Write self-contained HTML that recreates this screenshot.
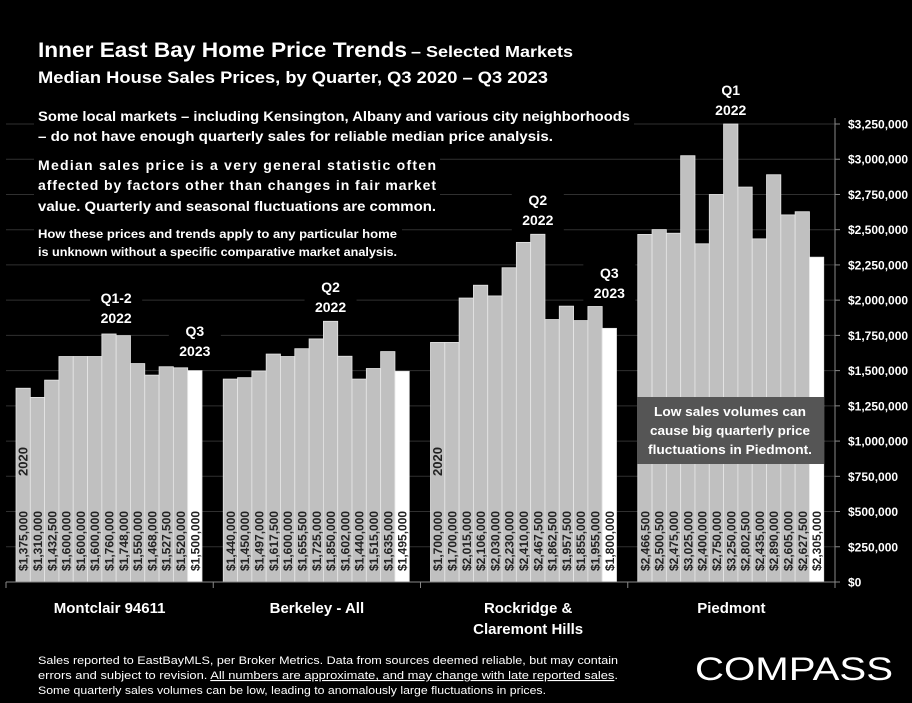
<!DOCTYPE html>
<html><head><meta charset="utf-8"><style>
html,body{margin:0;padding:0;background:#000;}
svg{display:block;font-family:"Liberation Sans",sans-serif;}
</style></head><body>
<svg id="chart" width="912" height="703" viewBox="0 0 912 703" xmlns="http://www.w3.org/2000/svg">
<rect x="0" y="0" width="912" height="703" fill="#000"/>
<g id="grid"></g>
<g id="bars"></g>
<g id="labels"></g>
<g id="axis"></g>
<g id="notes"></g>
<g fill="#fff" font-weight="bold">
<rect x="30" y="28" width="560" height="58" fill="#000"/>
<text x="38" y="57" font-size="21" textLength="369" lengthAdjust="spacingAndGlyphs">Inner East Bay Home Price Trends</text>
<text x="411" y="57" font-size="16" textLength="162" lengthAdjust="spacingAndGlyphs">– Selected Markets</text>
<text x="38" y="83" font-size="17" textLength="510" lengthAdjust="spacingAndGlyphs">Median House Sales Prices, by Quarter, Q3 2020 – Q3 2023</text>
<rect x="34" y="103" width="600" height="44" fill="#000"/>
<text x="38" y="121" font-size="14" textLength="592" lengthAdjust="spacingAndGlyphs">Some local markets – including Kensington, Albany and various city neighborhoods</text>
<text x="38" y="141" font-size="14" textLength="515" lengthAdjust="spacingAndGlyphs">– do not have enough quarterly sales for reliable median price analysis.</text>
<rect x="34" y="153" width="406" height="62" fill="#000"/>
<text x="38" y="170" font-size="14" textLength="398" lengthAdjust="spacing">Median sales price is a very general statistic often</text>
<text x="38" y="190" font-size="14" textLength="398" lengthAdjust="spacing">affected by factors other than changes in fair market</text>
<text x="38" y="211" font-size="14" textLength="398" lengthAdjust="spacingAndGlyphs">value. Quarterly and seasonal fluctuations are common.</text>
<rect x="34" y="225" width="368" height="34" fill="#000"/>
<text x="38" y="238" font-size="11.5" textLength="359" lengthAdjust="spacingAndGlyphs">How these prices and trends apply to any particular home</text>
<text x="38" y="256" font-size="11.5" textLength="359" lengthAdjust="spacingAndGlyphs">is unknown without a specific comparative market analysis.</text>
</g>
<g>
<rect x="637" y="397" width="187" height="67" fill="#555"/>
<g fill="#fff" font-weight="bold" font-size="13" text-anchor="middle">
<text x="730" y="416" textLength="152" lengthAdjust="spacingAndGlyphs">Low sales volumes can</text>
<text x="730" y="435" textLength="160" lengthAdjust="spacingAndGlyphs">cause big quarterly price</text>
<text x="730" y="454" textLength="164" lengthAdjust="spacingAndGlyphs">fluctuations in Piedmont.</text>
</g></g>
<g fill="#fff" font-size="11">
<text x="38" y="664" textLength="580" lengthAdjust="spacingAndGlyphs">Sales reported to EastBayMLS, per Broker Metrics. Data from sources deemed reliable, but may contain</text>
<text x="38" y="679" textLength="580" lengthAdjust="spacingAndGlyphs">errors and subject to revision. <tspan text-decoration="underline">All numbers are approximate, and may change with late reported sales</tspan>.</text>
<text x="38" y="694" textLength="508" lengthAdjust="spacingAndGlyphs">Some quarterly sales volumes can be low, leading to anomalously large fluctuations in prices.</text>
</g>
<text x="695" y="680" fill="#fff" font-size="32" textLength="198" lengthAdjust="spacingAndGlyphs">COMPASS</text>
</svg>
<script>
const categories = ["Montclair  94611", "Berkeley - All", "Rockridge &|Claremont Hills", "Piedmont"];
const montclair = [1375000,1310000,1432500,1600000,1600000,1600000,1760000,1748000,1550000,1468000,1527500,1520000,1500000];
const berkeley = [1440000,1450000,1497000,1617500,1600000,1655500,1725000,1850000,1602000,1440000,1515000,1635000,1495000];
const rockridge = [1700000,1700000,2015000,2106000,2030000,2230000,2410000,2467500,1862500,1957500,1855000,1955000,1800000];
const piedmont = [2466500,2500500,2475000,3025000,2400000,2750000,3250000,2802500,2435000,2890000,2605000,2627500,2305000];
const series = [montclair, berkeley, rockridge, piedmont];
const yTicks = [0,250000,500000,750000,1000000,1250000,1500000,1750000,2000000,2250000,2500000,2750000,3000000,3250000];
const notes = [
 {g:0, i:6.5, lines:["Q1-2","2022"], top:303},
 {g:0, i:12, lines:["Q3","2023"], top:336},
 {g:1, i:7, lines:["Q2","2022"], top:292},
 {g:2, i:7, lines:["Q2","2022"], top:205},
 {g:2, i:12, lines:["Q3","2023"], top:278},
 {g:3, i:6, lines:["Q1","2022"], top:95}
];
const NS="http://www.w3.org/2000/svg";
const X0=6, GW=207.25, BOFF=10, BW=186/13, Y0=582, YTOP=124, YMAX=3250000;
function y(v){return Y0-(v/YMAX)*(Y0-YTOP);}
function bx(g,i){return X0+g*GW+BOFF+i*BW;}
function mk(tag,attrs,parent){const e=document.createElementNS(NS,tag);for(const k in attrs)e.setAttribute(k,attrs[k]);parent.appendChild(e);return e;}
const grid=document.getElementById('grid'),bars=document.getElementById('bars'),labels=document.getElementById('labels'),axis=document.getElementById('axis'),notesG=document.getElementById('notes');
yTicks.forEach(t=>{
 if(t>0){const l=mk('line',{x1:6,x2:835,y1:y(t),y2:y(t),stroke:'#303030','stroke-width':1},grid);
 
 }
 const tl=mk('text',{x:848,y:y(t)+4.5,fill:'#fff','font-size':12,'font-weight':'bold'},axis);
 
 
 tl.textContent='$'+t.toLocaleString('en-US');
 mk('line',{x1:835,x2:840,y1:y(t),y2:y(t),stroke:'#888'},axis);
});
mk('line',{x1:835,x2:835,y1:118,y2:588,stroke:'#888'},axis);
mk('line',{x1:6,x2:835,y1:Y0,y2:Y0,stroke:'#888'},axis);
for(let g=0;g<=4;g++){mk('line',{x1:X0+g*GW,x2:X0+g*GW,y1:Y0,y2:Y0+6,stroke:'#888'},axis);}
series.forEach((arr,g)=>{
 arr.forEach((v,i)=>{
  const last=i===arr.length-1;
  const r=mk('rect',{x:bx(g,i),y:y(v),width:BW,height:Y0-y(v),fill:last?'#fff':'#c0c0c0',stroke:'#e6e6e6','stroke-width':0.8},bars);
  
  
  const cx=bx(g,i)+BW/2+4.5;
  const t=mk('text',{x:0,y:0,transform:`translate(${cx},571) rotate(-90)`,fill:'#222','font-size':12,'font-weight':'bold'},labels);
  
  
  t.textContent='$'+v.toLocaleString('en-US');
 });
 if(g===0||g===2){
  const cx=bx(g,0)+BW/2+4.5;
  const t=mk('text',{x:0,y:0,transform:`translate(${cx},476) rotate(-90)`,fill:'#222','font-size':13,'font-weight':'bold'},labels);
  
  
  t.textContent='2020';
 }
 const cl=categories[g].split('|');
 cl.forEach((s,k)=>{
  const t=mk('text',{x:X0+g*GW+GW/2+(g===2?4:0),y:613+k*21,fill:'#fff','font-size':15,'font-weight':'bold','text-anchor':'middle'},axis);
  
  
  t.setAttribute('xml:space','preserve');
  t.textContent=s;
 });
});
notes.forEach(n=>{
 const cx=bx(n.g,n.i)+BW/2;
 mk('rect',{x:cx-26,y:n.top-16,width:52,height:42,fill:'#000'},notesG);
 n.lines.forEach((s,k)=>{
  const t=mk('text',{x:cx,y:n.top+k*20,fill:'#fff','font-size':14,'font-weight':'bold','text-anchor':'middle'},notesG);
  
  
  t.textContent=s;
 });
});
</script>
</body></html>
